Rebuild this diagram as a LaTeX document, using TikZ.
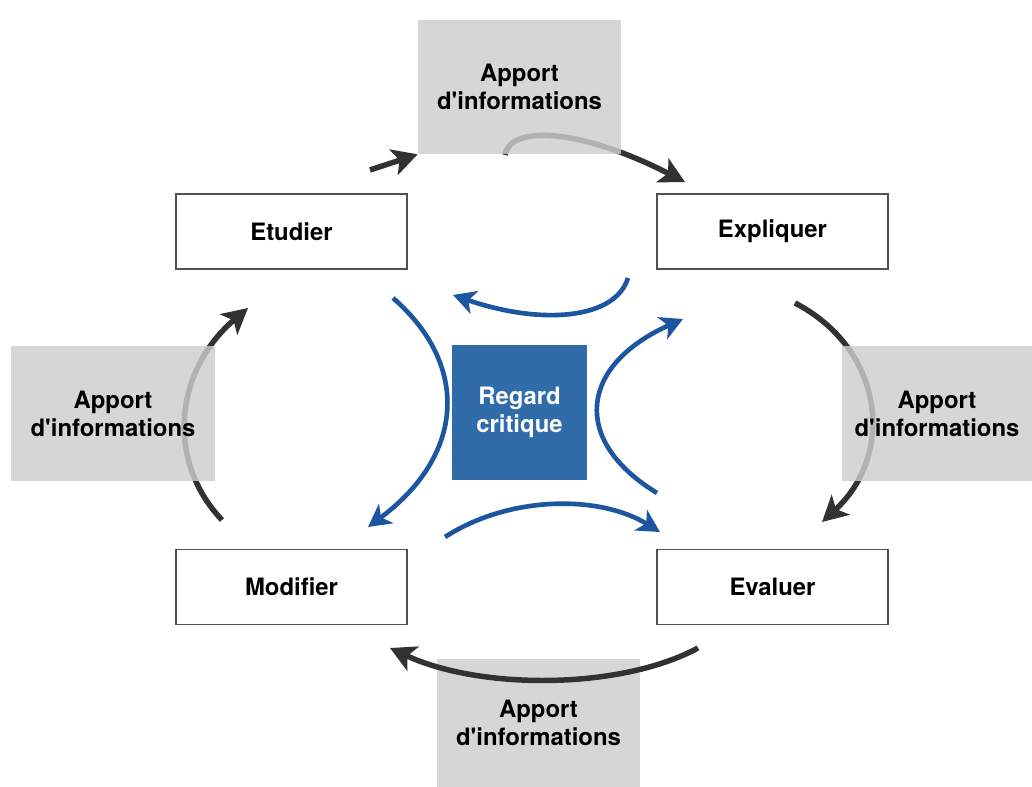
\documentclass[tikz,border=0pt]{standalone}
\usepackage{fontspec}
\setmainfont{TeX Gyre Heros}
\usetikzlibrary{arrows.meta,backgrounds}
\definecolor{boxgray}{RGB}{205,205,205}
\definecolor{cyclecol}{RGB}{50,50,50}
\definecolor{bluebox}{RGB}{48,107,170}
\definecolor{bluearrow}{RGB}{28,86,160}
\definecolor{borderc}{RGB}{80,80,80}
\newcommand{\infotext}{Apport\\d\textquotesingle informations}
\tikzset{
  lbl/.style={font=\fontsize{17}{20}\selectfont\bfseries, align=center},
  stepbox/.style={lbl, draw=borderc, line width=0.8pt, fill=white, minimum width=5.775cm, minimum height=1.875cm, inner sep=0pt},
  infobox/.style={lbl, fill=boxgray, fill opacity=0.82, text opacity=1, inner sep=0pt},
  cyc/.style={line width=3.9pt, draw=cyclecol, -{Stealth[length=18pt,width=19pt,inset=4.5pt]}},
  bluearr/.style={line width=3.3pt, draw=bluearrow, -{Stealth[length=16pt,width=17pt,inset=4.5pt]}},
}
\begin{document}
\begin{tikzpicture}[x=0.025cm,y=-0.025cm]
\useasboundingbox (0,0) rectangle (1032,787);
% step boxes
\node[stepbox] (etudier) at (291.5,231.5) {Etudier};
\node[stepbox] (expliquer) at (772.5,231.5) {Expliquer};
\node[stepbox] (modifier) at (291.5,587) {Modifier};
\node[stepbox] (evaluer) at (772.5,587) {Evaluer};
% info boxes
\node[infobox, minimum width=5.075cm, minimum height=3.35cm] (infotop) at (519.5,87) {\infotext};
\node[infobox, minimum width=4.75cm, minimum height=3.375cm] (inforight) at (937,413.5) {\infotext};
\node[infobox, minimum width=5.1cm, minimum height=3.375cm] (infoleft) at (113,413.5) {\infotext};
\node[infobox, minimum width=5.075cm, minimum height=3.2cm] (infobottom) at (538.5,723) {\infotext};
% center
\node[fill=bluebox, text=white, lbl, minimum width=3.375cm, minimum height=3.375cm, inner sep=0pt] (regard) at (519.5,412.5) {Regard\\critique};
% coordinates
\coordinate (c1s) at (370,170);
\coordinate (c2s) at (505,155);
\coordinate (c2e) at (685,182);
\coordinate (c3s) at (795,303);
\coordinate (c3e) at (822,522);
\coordinate (c4s) at (698,648);
\coordinate (c4e) at (390,648);
\coordinate (c5s) at (222,520);
\coordinate (c5e) at (248,308);
\coordinate (b1s) at (628,278);
\coordinate (b1e) at (453,295);
\coordinate (b2s) at (657,493);
\coordinate (b2e) at (683,319);
\coordinate (b3s) at (445,537);
\coordinate (b3e) at (660,532);
\coordinate (b4s) at (393,298);
\coordinate (b4e) at (368,527);
\begin{scope}[on background layer]
\fill[white] (0,0) rectangle (1032,787);
\draw[cyc] (c1s) -- (infotop.south west);
\draw[cyc] (c2s) .. controls (510,125) and (580,128) .. (c2e);
\draw[cyc] (c3s) .. controls (885,350) and (895,455) .. (c3e);
\draw[cyc] (c5s) .. controls (165,460) and (175,370) .. (c5e);
\end{scope}
\draw[cyc] (c4s) .. controls (620,690) and (480,690) .. (c4e);
\draw[bluearr] (b1s) .. controls (615,320) and (540,325) .. (b1e);
\draw[bluearr] (b2s) .. controls (570,440) and (580,365) .. (b2e);
\draw[bluearr] (b3s) .. controls (510,495) and (600,495) .. (b3e);
\draw[bluearr] (b4s) .. controls (470,365) and (465,455) .. (b4e);
\end{tikzpicture}
\end{document}
